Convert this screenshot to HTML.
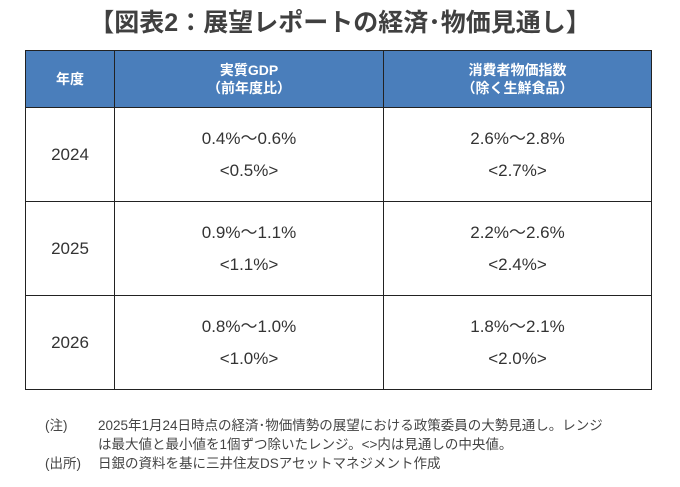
<!DOCTYPE html>
<html><head><meta charset="utf-8"><style>
body{margin:0;width:680px;height:487px;background:#fff;font-family:"Liberation Sans","Noto Sans CJK JP",sans-serif;color:#333;position:relative;overflow:hidden}
.title{position:absolute;top:3px;left:0;width:680px;text-align:center;font-size:25px;font-weight:bold;color:#404040}
table{position:absolute;left:25px;top:50px;border-collapse:collapse;width:627px;table-layout:fixed}
td,th{border:1.5px solid #222;text-align:center;vertical-align:middle;padding:0}
th{background:#4a7ebb;color:#fff;font-size:14px;font-weight:bold;height:56px;line-height:18px}
td{height:93px;font-size:17px;line-height:32px;color:#333}
.note{position:absolute;left:45px;font-size:13.5px;color:#444;line-height:19px}
.note span{position:absolute;left:53px;white-space:nowrap}
</style></head><body>
<div class="title">【図表2：展望レポートの経済･物価見通し】</div>
<table>
<colgroup><col style="width:89px"><col style="width:269px"><col></colgroup>
<tr><th>年度</th><th>実質GDP<br>（前年度比）</th><th>消費者物価指数<br>（除く生鮮食品）</th></tr>
<tr><td>2024</td><td>0.4%～0.6%<br>&lt;0.5%&gt;</td><td>2.6%～2.8%<br>&lt;2.7%&gt;</td></tr>
<tr><td>2025</td><td>0.9%～1.1%<br>&lt;1.1%&gt;</td><td>2.2%～2.6%<br>&lt;2.4%&gt;</td></tr>
<tr><td>2026</td><td>0.8%～1.0%<br>&lt;1.0%&gt;</td><td>1.8%～2.1%<br>&lt;2.0%&gt;</td></tr>
</table>
<div class="note" style="top:416px">(注)<span>2025年1月24日時点の経済･物価情勢の展望における政策委員の大勢見通し。レンジ</span></div>
<div class="note" style="top:435px"><span>は最大値と最小値を1個ずつ除いたレンジ。&lt;&gt;内は見通しの中央値。</span></div>
<div class="note" style="top:454px">(出所)<span>日銀の資料を基に三井住友DSアセットマネジメント作成</span></div>
</body></html>
